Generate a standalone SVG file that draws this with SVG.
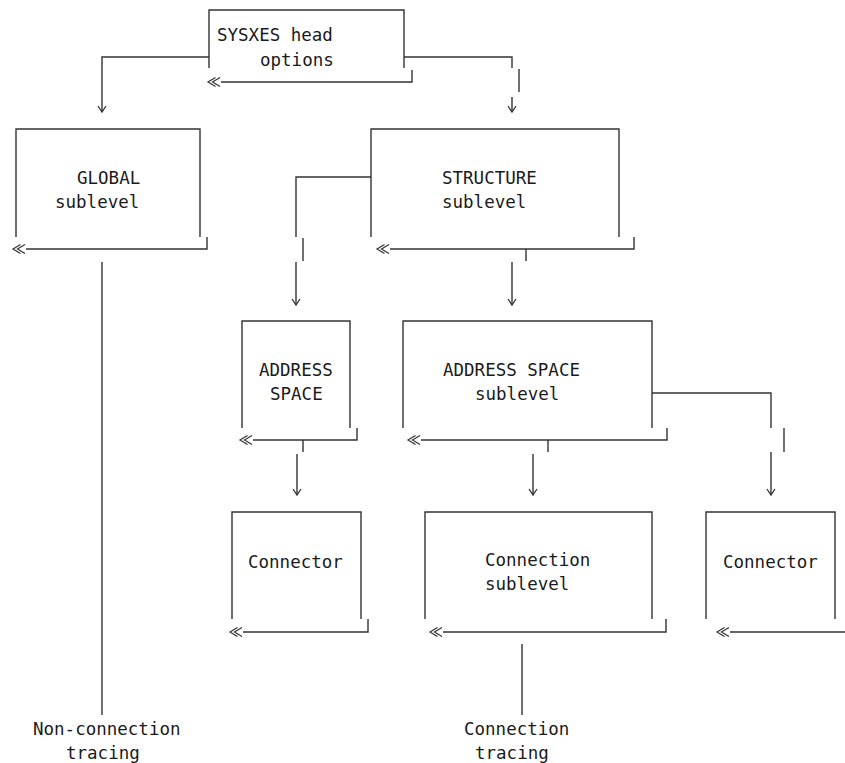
<svg xmlns="http://www.w3.org/2000/svg" width="845" height="763" viewBox="0 0 845 763">
<style>
.ln{fill:none;stroke:#333;stroke-width:1.4}
.ret{fill:none;stroke:#333;stroke-width:1.4;marker-end:url(#dbl)}
.arr{fill:none;stroke:#333;stroke-width:1.4;marker-end:url(#down)}
text{font-family:"DejaVu Sans Mono","Liberation Mono",monospace;font-size:17.5px;fill:#1a1a1a}
</style>
<defs>
<marker id="dbl" markerUnits="userSpaceOnUse" viewBox="0 0 14 12" markerWidth="14" markerHeight="12" refX="0" refY="6" orient="auto" overflow="visible">
<path d="M1,1.5 L8.5,6 L1,10.5 M5.5,1.5 L13,6 L5.5,10.5" fill="none" stroke="#333" stroke-width="1.2"/>
</marker>
<marker id="down" markerUnits="userSpaceOnUse" viewBox="-8 -5 9 10" markerWidth="9" markerHeight="10" refX="0" refY="0" orient="auto" overflow="visible">
<path d="M-6,-4 L0,0 L-6,4" fill="none" stroke="#333" stroke-width="1.3"/>
</marker>
</defs>
<g id="head">
<path class="ln" d="M209,68 V10 H404 V68"/>
<path class="ret" d="M412,70 V82 H221"/>
<text x="217" y="41">SYSXES head</text>
<text x="260" y="66">options</text>
</g>
<g id="global">
<path class="ln" d="M16,237 V129 H200 V237"/>
<path class="ret" d="M207,237 V249 H26"/>
<text x="77" y="184">GLOBAL</text>
<text x="55" y="208">sublevel</text>
</g>
<g id="structure">
<path class="ln" d="M371,237 V129 H619 V237"/>
<path class="ret" d="M634,237 V249 H390"/>
<text x="442" y="184">STRUCTURE</text>
<text x="442" y="208">sublevel</text>
</g>
<g id="address-space">
<path class="ln" d="M242,428 V321 H350 V428"/>
<path class="ret" d="M357,428 V440 H253"/>
<text x="259" y="376">ADDRESS</text>
<text x="270" y="400">SPACE</text>
</g>
<g id="address-space-sublevel">
<path class="ln" d="M403,428 V321 H652 V428"/>
<path class="ret" d="M667,428 V440 H421"/>
<text x="443" y="376">ADDRESS SPACE</text>
<text x="475" y="400">sublevel</text>
</g>
<g id="connector-1">
<path class="ln" d="M232,619 V512 H361 V619"/>
<path class="ret" d="M368,619 V632 H243"/>
<text x="248" y="568">Connector</text>
</g>
<g id="connection-sublevel">
<path class="ln" d="M425,619 V512 H652 V619"/>
<path class="ret" d="M666,619 V632 H443"/>
<text x="485" y="566">Connection</text>
<text x="485" y="590">sublevel</text>
</g>
<g id="connector-2">
<path class="ln" d="M706,619 V512 H835 V619"/>
<path class="ret" d="M850,619 V632 H730"/>
<text x="723" y="568">Connector</text>
</g>
<g id="non-connection-tracing">
<text x="33" y="735">Non-connection</text>
<text x="66" y="759">tracing</text>
</g>
<g id="connection-tracing">
<text x="464" y="735">Connection</text>
<text x="475" y="759">tracing</text>
</g>
<g id="connectors">
<path class="arr" d="M209,57 H102 V112"/>
<path class="ln" d="M404,57 H512 V68"/>
<path class="ln" d="M519,69 V92"/>
<path class="arr" d="M512,97 V112"/>
<path class="ln" d="M102,262 V715"/>
<path class="ln" d="M371,177 H296 V237"/>
<path class="ln" d="M303,238 V261"/>
<path class="arr" d="M296,262 V305"/>
<path class="ln" d="M526,249 V261"/>
<path class="arr" d="M512,262 V305"/>
<path class="ln" d="M303,440 V452"/>
<path class="arr" d="M297,454 V495"/>
<path class="ln" d="M548,440 V452"/>
<path class="arr" d="M533,454 V495"/>
<path class="ln" d="M652,393 H771 V428"/>
<path class="ln" d="M784,428 V452"/>
<path class="arr" d="M771,452 V495"/>
<path class="ln" d="M522,644 V715"/>
</g>
</svg>
